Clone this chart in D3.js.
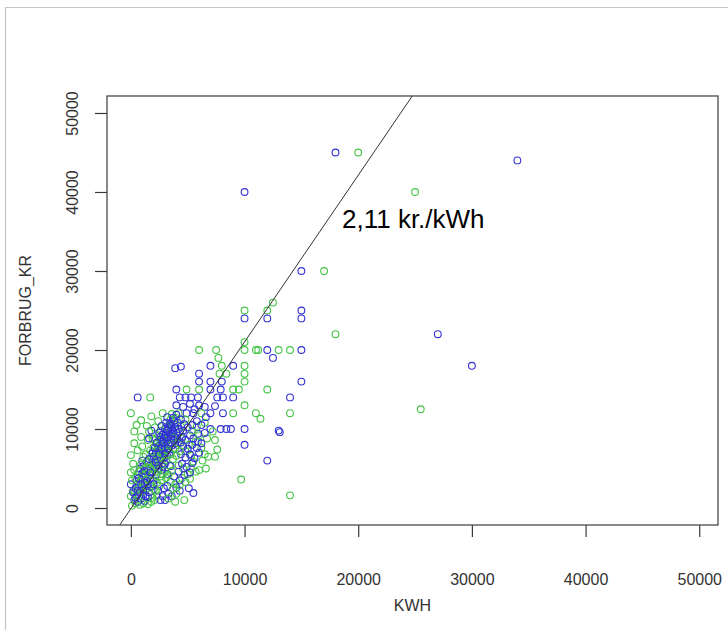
<!DOCTYPE html>
<html><head><meta charset="utf-8">
<script src="https://cdn.jsdelivr.net/npm/d3@7"></script>
<style>
body{margin:0;background:#fff}
svg{display:block}
text{font-family:"Liberation Sans",Arial,Helvetica,sans-serif}
</style>
</head><body>
<svg id="chart" width="728" height="630"></svg>
<script>
// ---- data ----
const xTicks = [0, 10000, 20000, 30000, 40000, 50000];
const yTicks = [0, 10000, 20000, 30000, 40000, 50000];
const xTitle = "KWH";
const yTitle = "FORBRUG_KR";
const annotation = "2,11 kr./kWh";
const slope = 2.11;
const intercept = -80;

// [KWH, FORBRUG_KR]
const bluePoints = [
  [18000,45000],[34000,44000],[10000,40000],[15000,30000],
  [10000,24000],[12000,24000],[15000,25000],[15000,24000],
  [27000,22000],[30000,18000],
  [12000,20000],[15000,20000],[12500,19000],
  [9000,18000],[7000,18000],[3900,17700],[4400,17900],
  [6000,17000],[6000,16000],[7000,16000],[8000,16000],[15000,16000],
  [4000,15000],[7000,15000],[7900,15000],
  [600,14000],[4300,14000],[4800,14000],[5300,14000],[5900,14000],[7600,14000],[8100,14000],[9000,14000],[14000,14000],
  [6500,12800],[7400,12900],
  [4900,12000],[5500,12000],[7000,12000],[8100,12000],
  [7000,10000],[7900,10000],[8400,10000],[8800,10000],[10000,10000],[13000,9800],[13100,9600],
  [10000,8000],[12000,6000],
  [5900,9400],[5900,8400],[5500,1900],[5100,2500],
  [300,1000],[600,800],[900,1200],[1200,900],[500,1600],[800,2000],[1100,1700],[1500,1400],
  [400,2500],[700,2900],[1000,2600],[1300,2300],[1600,2000],[0,3000],[500,3400],[900,3600],
  [1200,3200],[1500,3000],[1800,2700],[600,4200],[1000,4400],[1300,4000],[1700,3800],[2000,3500],
  [800,5000],[1100,5300],[1500,4800],[1900,4500],[2200,4200],[1000,6000],[1400,5800],[1800,5500],
  [2100,5200],[2500,5000],
  [2600,1000],[3000,1000],[2800,1500],[3300,1800],[3600,1500],[2400,2200],[2900,2500],[3200,2800],
  [4000,2600],[4300,2200],
  [2000,6500],[2300,6200],[2600,6000],[2900,6300],[3200,6600],[2200,7000],[2500,7300],[2800,7000],
  [3100,7200],[3400,7000],[3700,7400],[2400,7800],[2700,8000],[3000,7800],[3300,8100],[3600,7900],
  [3900,8200],[2600,8600],[2900,8800],[3200,8500],[3500,8800],[3800,9000],[4100,8700],[2800,9300],
  [3100,9500],[3400,9300],[3700,9700],[4000,9500],[3000,10000],[3300,10200],[3600,10000],[3900,10300],
  [4200,10000],[3500,10700],[3800,11000],[4100,10800],[4400,11200],[4700,10600],[3200,11500],[4000,11800],
  [4500,9000],[4800,8600],[5200,9200],[5500,8800],[4600,7800],[5000,7500],[5400,8000],[5800,7600],
  [6200,8200],[4400,6800],[4800,6400],[5200,6800],[5600,6300],[6000,7000],[4500,5600],[4900,5200],
  [5400,5700],[4200,4600],[4700,4200],[5200,4500],[3800,4000],[4300,3500],[3500,5300],[3000,5600],
  [2700,4800],[3200,4300],[4600,9800],[5000,10200],[5400,10500],[5800,11000],[6200,10500],[6500,9500],
  [6600,11500],[5600,12500],[6000,13000],[5200,13200],[4600,12800],[4000,13000],[1800,9800],[1600,8800],
  [2500,6800],[2700,7500],[2900,8200],[3100,8900],[3300,9600],[3500,10400],[2600,9000],[2800,8400],
  [3000,9200],[3200,9800],[3400,10600],[3600,9400],[3800,8500],[3000,6900],[3300,7500],[3500,8300],
  [2300,8300],[2500,9500],[2700,10400],[3100,10800],[3700,11400],[4300,9700],[4400,8300],[2100,7600],
  [1900,6900],[600,2200],[900,3000],[1200,4700],[700,3800],[400,1300],[1100,2300],[1400,3400],
  [1700,4500],[200,2000],[1300,1500],[2000,3000],[1600,6200],[2200,5800],[2400,5400],[2800,5200]
];

const greenPoints = [
  [20000,45000],[25000,40000],[17000,30000],
  [10000,25000],[12000,25000],[12500,26000],[18000,22000],[25500,12500],
  [10000,21000],[10000,20000],[11000,20000],[11200,20000],[13000,20000],[14000,20000],
  [6000,20000],[7500,20000],[7700,19000],[8000,18000],[7800,17000],[8400,17000],
  [10000,18000],[10000,17000],[10000,16000],[9000,15000],[9500,15000],[12000,15000],
  [4900,15000],[6000,15000],[1700,14000],[10000,13000],
  [0,12000],[900,11100],[1800,11600],[2800,12000],[3600,11900],[4200,12000],[6200,12000],[9000,12000],
  [11000,12000],[11400,11300],[14000,12000],[9700,3600],[14000,1600],
  [300,9700],[300,8200],[1500,8600],[0,6700],[7600,7400],[6800,6500],[7400,6500],[6600,5000],[6000,4800],
  [100,300],[400,600],[800,400],[1100,600],[1500,500],[1800,800],[2100,1000],[0,1500],
  [300,1900],[700,1500],[1900,1300],[2300,1600],[200,2200],[600,2400],[1000,2100],[1400,2500],
  [1700,2800],[2000,2400],[2500,2800],[100,3500],[400,3800],[800,3300],[1100,3000],[1400,3600],
  [1700,4100],[2300,3200],[2700,3500],[0,4500],[300,4800],[700,4600],[1000,4100],[1200,5000],
  [1600,5300],[2000,4900],[2400,4600],[2800,4300],[3100,3800],[3500,3300],[3900,3000],
  [1500,5900],[1800,6300],[2100,5700],[2400,6600],[1300,6800],[1700,7300],[2000,7700],[2200,8200],
  [1900,8800],[2400,9200],[2600,9800],[2100,10200],[1600,9700],[2800,7600],[3000,8400],[3300,9000],
  [2700,6900],[3100,6000],[3400,5400],[3700,6200],[3500,6800],[3900,7600],[4200,8200],[4500,8800],
  [4100,9200],[4400,10300],[3800,10600],[4000,11400],[4800,11200],
  [4200,5400],[4600,5000],[5000,4300],[5300,5000],[5700,4600],[5500,5900],[6300,6000],[4500,3800],
  [4800,3300],[5200,3700],[4300,2900],[3700,2400],[4000,1800],[4700,1000],[3900,800],[3300,1200],
  [6500,6800],[6200,7600],[5700,8400],[5100,8000],[4800,7200],[5300,6600],[6700,8800],[6000,9200],
  [5400,9800],[5800,10300],[6500,10800],[7200,9700],[7400,8600],[200,5600],[600,7300],[1000,7800],
  [900,9000],[500,10500],
  [2000,5200],[2200,6000],[2500,6300],[2700,5600],[2900,6600],[1900,7100],[2300,7300],[2600,7700],
  [2100,8600],[2800,8900],[3200,7400],[3400,7900],[1700,5000],[2400,5000],[3000,4700],[2600,4000],
  [1900,3500],[2200,2200],[1300,4300],[900,5500],[1100,6500],[3600,4700],[3300,4200],[4000,6600],
  [4300,7200],[3700,8900],[3100,10300],[3500,11200],[2400,11000],[1400,10400]
];

// ---- layout ----
const svg = d3.select("#chart");
const L = 107, R = 718, T = 96, B = 525;
const x = d3.scaleLinear().domain([-2100, 51650]).range([L, R]);
const y = d3.scaleLinear().domain([-2150, 52150]).range([B, T]);
const ink = "#3a3a3a";
const colour = { blue: "#3232d2", green: "#45c445" };

// outer frame (document box)
svg.append("path")
  .attr("d", "M5.5,630 L5.5,7.5 L728,7.5")
  .attr("fill", "none").attr("stroke", "#c4c4c4").attr("stroke-width", 1.2);

svg.append("defs").append("clipPath").attr("id", "plotclip")
  .append("rect").attr("x", L).attr("y", T).attr("width", R - L).attr("height", B - T);

// x axis
const xa = svg.append("g").attr("transform", `translate(0,${B})`)
  .call(d3.axisBottom(x).tickValues(xTicks).tickSize(12).tickPadding(37).tickFormat(d3.format("d")));
xa.select(".domain").remove();
xa.selectAll("line").attr("stroke", ink).attr("stroke-width", 1.2);
xa.selectAll("text").attr("fill", "#333").style("font-size", "16px");

// y axis
const ya = svg.append("g").attr("transform", `translate(${L},0)`)
  .call(d3.axisLeft(y).tickValues(yTicks).tickSize(12).tickFormat(d3.format("d")));
ya.select(".domain").remove();
ya.selectAll("line").attr("stroke", ink).attr("stroke-width", 1.2);
ya.selectAll("text")
  .attr("x", 0).attr("y", -29.5).attr("dy", null)
  .attr("text-anchor", "middle")
  .attr("transform", "rotate(-90)")
  .attr("fill", "#333").style("font-size", "16px");

// plot box
svg.append("rect").attr("x", L).attr("y", T).attr("width", R - L).attr("height", B - T)
  .attr("fill", "none").attr("stroke", "#4a4a4a").attr("stroke-width", 1.3);

// titles
svg.append("text").attr("x", (L + R) / 2).attr("y", 611).attr("text-anchor", "middle")
  .attr("fill", "#333").style("font-size", "16px").text(xTitle);
svg.append("text").attr("transform", `translate(31,${(T + B) / 2}) rotate(-90)`)
  .attr("text-anchor", "middle").attr("fill", "#333").style("font-size", "16px").text(yTitle);

// points: interleave the two series in drawing order, as the rows come mixed in the data
const tagged = [];
const n = Math.max(bluePoints.length, greenPoints.length);
for (let i = 0; i < n; i++) {
  if (i < bluePoints.length) tagged.push({ p: bluePoints[i], c: "blue" });
  if (i < greenPoints.length) tagged.push({ p: greenPoints[i], c: "green" });
}
const gp = svg.append("g").attr("clip-path", "url(#plotclip)");
gp.selectAll("circle").data(tagged).join("circle")
  .attr("cx", d => x(d.p[0])).attr("cy", d => y(d.p[1])).attr("r", 3.4)
  .attr("fill", "none").attr("stroke", d => colour[d.c]).attr("stroke-width", 1.1);

// regression line
const xd = x.domain();
gp.append("line")
  .attr("x1", x(xd[0])).attr("y1", y(intercept + slope * xd[0]))
  .attr("x2", x(xd[1])).attr("y2", y(intercept + slope * xd[1]))
  .attr("stroke", "#333").attr("stroke-width", 1);

// annotation
svg.append("text").attr("x", 342).attr("y", 228).attr("fill", "#000")
  .style("font-size", "26px").text(annotation);
</script>
</body></html>
